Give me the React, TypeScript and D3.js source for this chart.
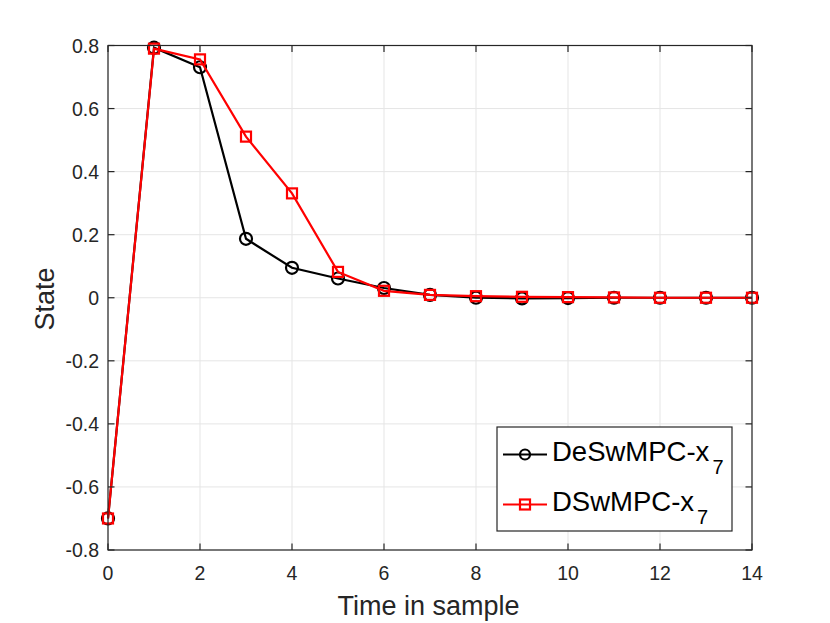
import React from "react";
import * as d3 from "d3";

const timeSteps = [0, 1, 2, 3, 4, 5, 6, 7, 8, 9, 10, 11, 12, 13, 14];
const deswmpc = [-0.7, 0.793, 0.731, 0.187, 0.095, 0.061, 0.031, 0.009, 0.0, -0.002, -0.001, 0.0, 0.0, 0.0, 0.0];
const dswmpc = [-0.7, 0.79, 0.756, 0.511, 0.331, 0.082, 0.022, 0.009, 0.005, 0.003, 0.002, 0.001, 0.0, 0.0, 0.0];
const xTicks = [0, 2, 4, 6, 8, 10, 12, 14];
const yTicks = [-0.8, -0.6, -0.4, -0.2, 0, 0.2, 0.4, 0.6, 0.8];
const seriesNames = ["DeSwMPC-x", "DSwMPC-x"];
const subscript = "7";

const W = 830;
const H = 623;
const L = 108, R = 752, T = 45.5, B = 550;
const axisColor = "#262626";
const gridColor = "#e5e5e5";
const font = "'Liberation Sans', Arial, Helvetica, sans-serif";

export default function App() {
  const x = d3.scaleLinear().domain([0, 14]).range([L, R]);
  const y = d3.scaleLinear().domain([-0.8, 0.8]).range([B, T]);
  const line = d3
    .line<number>()
    .x((_, i) => x(timeSteps[i]))
    .y((d) => y(d));
  const fmtY = (v: number) => (Math.abs(v) < 1e-9 ? "0" : v.toFixed(1));
  const tl = 6.5;

  return (
    <svg
      width={W}
      height={H}
      style={{ position: "absolute", left: 0, top: 0, background: "#fff" }}
      fontFamily={font}
    >
      <rect x={0} y={0} width={W} height={H} fill="#fff" />
      {xTicks.map((t) => (
        <line key={"gx" + t} x1={x(t)} x2={x(t)} y1={T} y2={B} stroke={gridColor} strokeWidth={1} />
      ))}
      {yTicks.map((t) => (
        <line key={"gy" + t} x1={L} x2={R} y1={y(t)} y2={y(t)} stroke={gridColor} strokeWidth={1} />
      ))}
      <path d={line(deswmpc) || ""} fill="none" stroke="#000" strokeWidth={2.2} />
      {deswmpc.map((v, i) => (
        <circle key={"c" + i} cx={x(timeSteps[i])} cy={y(v)} r={6} fill="none" stroke="#000" strokeWidth={2.2} />
      ))}
      <path d={line(dswmpc) || ""} fill="none" stroke="#ff0000" strokeWidth={2.2} />
      {dswmpc.map((v, i) => (
        <rect
          key={"s" + i}
          x={x(timeSteps[i]) - 5}
          y={y(v) - 5}
          width={10}
          height={10}
          fill="none"
          stroke="#ff0000"
          strokeWidth={2.2}
        />
      ))}
      <rect x={L} y={T} width={R - L} height={B - T} fill="none" stroke={axisColor} strokeWidth={1.2} />
      {xTicks.map((t) => (
        <g key={"tx" + t}>
          <line x1={x(t)} x2={x(t)} y1={B} y2={B - tl} stroke={axisColor} strokeWidth={1.2} />
          <line x1={x(t)} x2={x(t)} y1={T} y2={T + tl} stroke={axisColor} strokeWidth={1.2} />
          <text x={x(t)} y={579.5} textAnchor="middle" fontSize={19.5} fill={axisColor}>
            {t}
          </text>
        </g>
      ))}
      {yTicks.map((t) => (
        <g key={"ty" + t}>
          <line x1={L} x2={L + tl} y1={y(t)} y2={y(t)} stroke={axisColor} strokeWidth={1.2} />
          <line x1={R} x2={R - tl} y1={y(t)} y2={y(t)} stroke={axisColor} strokeWidth={1.2} />
          <text x={99} y={y(t) + 7} textAnchor="end" fontSize={19.5} fill={axisColor}>
            {fmtY(t)}
          </text>
        </g>
      ))}
      <text x={428.5} y={615} textAnchor="middle" fontSize={27} fill={axisColor}>
        Time in sample
      </text>
      <text
        transform={`translate(54,299) rotate(-90)`}
        textAnchor="middle"
        fontSize={27}
        fill={axisColor}
      >
        State
      </text>
      <rect x={497} y={427} width={235} height={104} fill="#fff" stroke={axisColor} strokeWidth={1.2} />
      {seriesNames.map((name, i) => {
        const ly = 454.5 + i * 50;
        const isRed = i === 1;
        const col = isRed ? "#ff0000" : "#000";
        return (
          <g key={"lg" + i}>
            <line x1={503} x2={547} y1={ly} y2={ly} stroke={col} strokeWidth={2.2} />
            {isRed ? (
              <rect x={520} y={ly - 5} width={10} height={10} fill="none" stroke={col} strokeWidth={2.2} />
            ) : (
              <circle cx={525} cy={ly} r={5} fill="none" stroke={col} strokeWidth={2.2} />
            )}
            <text x={552} y={ly + 6.5} fontSize={27.5} fill="#000">
              {name}
              <tspan dx={3} dy={13} fontSize={20}>
                {subscript}
              </tspan>
            </text>
          </g>
        );
      })}
    </svg>
  );
}
